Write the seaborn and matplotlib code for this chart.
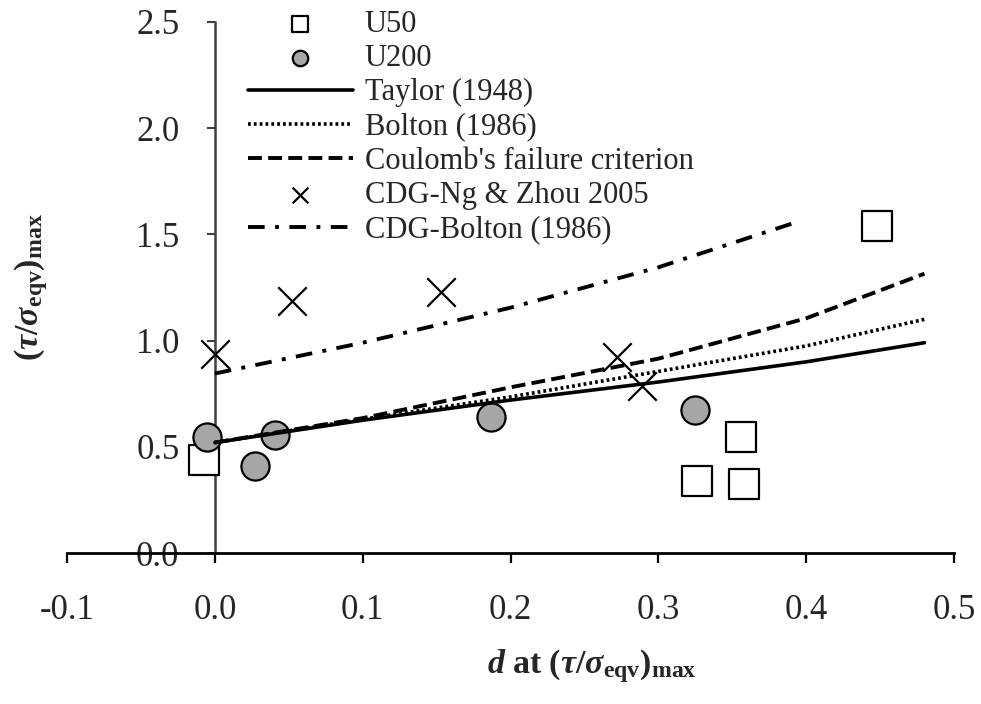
import matplotlib
matplotlib.use("Agg")
import matplotlib.pyplot as plt
import seaborn as sns

# ---- data ----
u50_x = [-0.007, 0.448, 0.356, 0.326, 0.358]
u50_y = [0.438, 1.540, 0.546, 0.339, 0.325]

u200_x = [-0.005, 0.041, 0.027, 0.187, 0.325]
u200_y = [0.546, 0.556, 0.410, 0.640, 0.673]

ng_x = [0.000, 0.052, 0.153, 0.272, 0.289]
ng_y = [0.937, 1.186, 1.229, 0.923, 0.786]

line_x = [0.0, 0.1, 0.2, 0.3, 0.4, 0.48]
taylor_y = [0.520, 0.625, 0.720, 0.805, 0.900, 0.990]
bolton_y = [0.520, 0.630, 0.735, 0.855, 0.975, 1.100]
coulomb_y = [0.520, 0.635, 0.780, 0.915, 1.105, 1.315]

cdgb_x = [0.0, 0.1, 0.2, 0.3, 0.39]
cdgb_y = [0.845, 0.990, 1.155, 1.345, 1.550]

x_ticks = [-0.1, 0.0, 0.1, 0.2, 0.3, 0.4, 0.5]
y_ticks = [0.0, 0.5, 1.0, 1.5, 2.0, 2.5]

# ---- style ----
sns.set_theme(style="white")
plt.rcParams["font.family"] = ["Liberation Serif", "DejaVu Serif"]
plt.rcParams["mathtext.fontset"] = "custom"
plt.rcParams["mathtext.rm"] = "Liberation Serif"
plt.rcParams["mathtext.it"] = "Liberation Serif:italic"
plt.rcParams["mathtext.bf"] = "Liberation Serif:bold"
plt.rcParams["mathtext.bfit"] = "Liberation Serif:italic:bold"
plt.rcParams["lines.scale_dashes"] = False

W, H = 981, 704
L, R, B, T = 67, 954, 553, 22
fig = plt.figure(figsize=(W / 100, H / 100), dpi=100)
ax = fig.add_axes([L / W, 1 - B / H, (R - L) / W, (B - T) / H])

sns.scatterplot(x=u50_x, y=u50_y, marker="s", s=480, facecolor="white",
                edgecolor="black", linewidth=1.6, label="U50", ax=ax, zorder=3)
sns.scatterplot(x=u200_x, y=u200_y, marker="o", s=410, facecolor="#a6a6a6",
                edgecolor="black", linewidth=1.6, label="U200", ax=ax, zorder=3)

sns.lineplot(x=line_x, y=taylor_y, color="black", linewidth=2.6,
             linestyle="-", label="Taylor (1948)", ax=ax, zorder=4)
sns.lineplot(x=line_x, y=bolton_y, color="black", linewidth=2.6,
             linestyle=(0, (2.0, 2.2)), label="Bolton (1986)", ax=ax, zorder=4)
sns.lineplot(x=line_x, y=coulomb_y, color="black", linewidth=2.8,
             linestyle=(0, (10, 4.5)), label="Coulomb's failure criterion",
             ax=ax, zorder=4)
sns.scatterplot(x=ng_x, y=ng_y, marker="x", s=420, color="black",
                linewidth=1.6, label="CDG-Ng & Zhou 2005", ax=ax, zorder=5)
sns.lineplot(x=cdgb_x, y=cdgb_y, color="black", linewidth=2.8,
             linestyle=(0, (12, 7.5, 2.8, 7.5)), label="CDG-Bolton (1986)",
             ax=ax, zorder=4)

ax.set_xlim(-0.1, 0.5)
ax.set_ylim(0, 2.5)
ax.set_xticks(x_ticks)
ax.set_yticks(y_ticks)
ax.set_xticklabels([f"{v:.1f}" for v in x_ticks])
ax.set_yticklabels([f"{v:.1f}" for v in y_ticks])

for s in ["top", "right"]:
    ax.spines[s].set_visible(False)
ax.spines["left"].set_position(("data", 0))
ax.spines["left"].set_color("#404040")
ax.spines["left"].set_linewidth(1.8)
ax.spines["bottom"].set_color("black")
ax.spines["bottom"].set_linewidth(2.0)
ax.spines["left"].set_zorder(2)

ax.tick_params(axis="x", direction="out", length=7.5, width=1.6,
               color="black", labelsize=25, pad=22, bottom=True)
ax.tick_params(axis="y", direction="out", length=6, width=1.5,
               color="#404040", labelsize=25, pad=19.5, left=True)
ax.grid(False)

ax.set_xlabel(r"$\mathbfit{d}\ \mathbf{at}\ \mathbf{(}\mathbfit{\tau}\mathbf{/}"
              r"\mathbfit{\sigma}_{\mathbf{eqv}}\mathbf{)}_{\mathbf{max}}$",
              fontsize=24.5)
ax.xaxis.label.set_va("center")
ax.xaxis.set_label_coords((592 - L) / (R - L), (B - 666) / (B - T))
ax.set_ylabel(r"$\mathbf{(}\mathbfit{\tau}\mathbf{/}"
              r"\mathbfit{\sigma}_{\mathbf{eqv}}\mathbf{)}_{\mathbf{max}}$",
              fontsize=24.5)
ax.yaxis.label.set_va("center")
ax.yaxis.set_label_coords((31 - L) / (R - L), (B - 287) / (B - T))

order = ["U50", "U200", "Taylor (1948)", "Bolton (1986)",
         "Coulomb's failure criterion", "CDG-Ng & Zhou 2005", "CDG-Bolton (1986)"]
handles, labels = ax.get_legend_handles_labels()
hmap = dict(zip(labels, handles))
leg = ax.legend([hmap[l] for l in order], order, loc="upper left",
                bbox_to_anchor=((248 - L) / (R - L), (B - 10) / (B - T)),
                frameon=False, fontsize=22, markerscale=0.55,
                handlelength=3.43, handletextpad=0.39, labelspacing=0.17,
                borderpad=0, borderaxespad=0)

fig.savefig("out.png", dpi=100)
